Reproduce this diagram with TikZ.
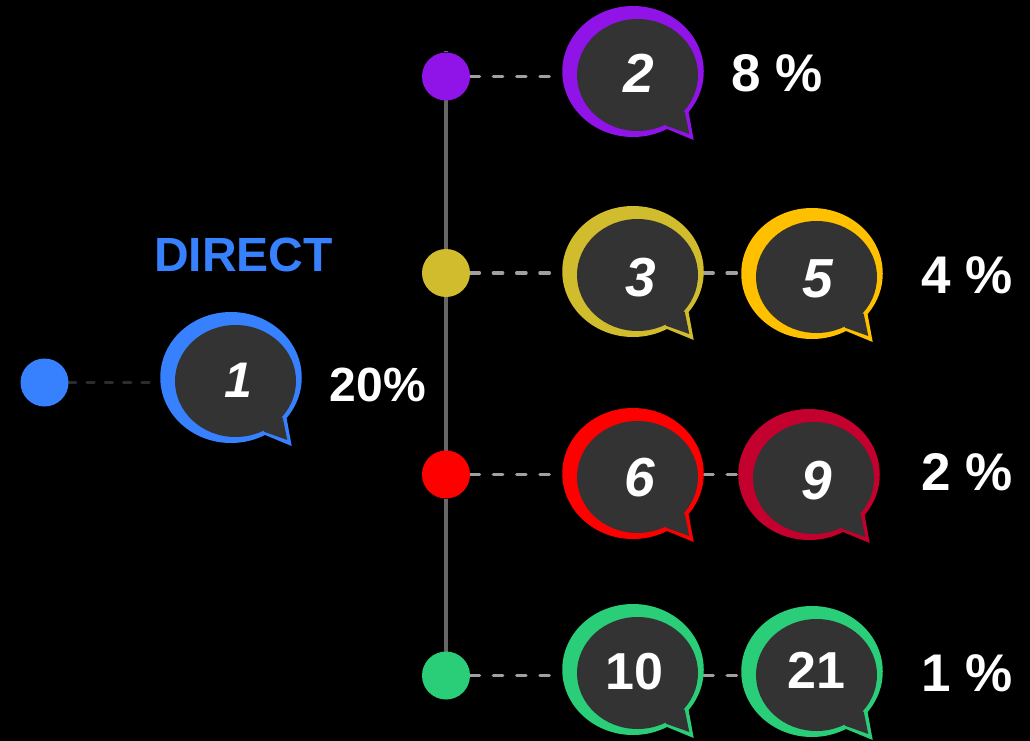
\documentclass[tikz,border=0pt]{standalone}
\usepackage{fontspec}
\setmainfont{Liberation Sans}
\usetikzlibrary{shapes.geometric}
\definecolor{cblue}{HTML}{3781FF}
\definecolor{cpurple}{HTML}{9013E8}
\definecolor{colive}{HTML}{D0BC2D}
\definecolor{camber}{HTML}{FFC000}
\definecolor{cred}{HTML}{FF0000}
\definecolor{ccrimson}{HTML}{C4002F}
\definecolor{cgreen}{HTML}{2BCE78}
\definecolor{cinner}{HTML}{333333}
\definecolor{cstem}{HTML}{666666}
\definecolor{cdash}{HTML}{A0A0A0}
\definecolor{cdashdark}{HTML}{2C2C2C}
\pgfdeclarelayer{bgbase}
\pgfdeclarelayer{bglines}
\pgfsetlayers{bgbase,bglines,main}
\tikzset{
  x=1pt,y=-1pt,
  dotnode/.style={circle,minimum size=48pt,inner sep=0pt,outer sep=0pt},
  outerb/.style={ellipse,minimum width=141.5pt,minimum height=131pt,inner sep=0pt,outer sep=0pt},
  innerb/.style={ellipse,fill=cinner,minimum width=121pt,minimum height=112pt,inner sep=0pt,outer sep=0pt},
  dashc/.style={line width=3.2pt,line cap=round,dash pattern=on 9.5pt off 13.8pt,cdash},
  dashd/.style={line width=2.8pt,line cap=round,dash pattern=on 7.5pt off 10.8pt,cdashdark},
  stem/.style={line width=4.2pt,cstem},
  pct/.style={text=white,font=\fontsize{53}{53}\selectfont\bfseries,inner sep=0pt},
  pctb/.style={text=white,font=\fontsize{48}{48}\selectfont\bfseries,inner sep=0pt},
  numi/.style={font=\fontsize{55}{55}\selectfont\bfseries\itshape},
  numo/.style={font=\fontsize{50}{50}\selectfont\bfseries\itshape},
  numr/.style={font=\fontsize{52}{52}\selectfont\bfseries},
}
% #1 name, #2 left, #3 top, #4 colour, #5 text style, #6 text, #7 text x, #8 text y
\newcommand{\bubblep}[8]{%
  \node[outerb,fill=#4] (#1o) at (#2+71,#3+65.5) {};
  \fill[#4] (#2+126,#3+103) -- (#2+131.7,#3+134) -- (#2+99,#3+120.5) -- cycle;
  \node[innerb] (#1) at (#2+75.5,#3+69) {};
  \fill[cinner] (#2+122.7,#3+105.7) -- (#2+127.3,#3+128) -- (#2+104,#3+119.7) -- (#2+100,#3+100) -- cycle;
  \node[#5,text=white,inner sep=0pt] (#1t) at (#7,#8) {#6};
}
\begin{document}
\begin{tikzpicture}
\useasboundingbox (0,0) rectangle (1030,741);
\begin{pgfonlayer}{bgbase}
\fill[black] (0,0) rectangle (1030,741);
\end{pgfonlayer}
\node[dotnode,fill=cpurple] (d2) at (446,76.5) {};
\node[dotnode,fill=colive] (d3) at (446,273) {};
\node[dotnode,fill=cred] (d6) at (446,474.5) {};
\node[dotnode,fill=cgreen] (d10) at (446,675.5) {};
\node[dotnode,fill=cblue] (d1) at (44.5,382.5) {};
\coordinate (top) at (446,51);
\bubblep{b1}{160}{312}{cblue}{numo}{1}{238.5}{380}
\bubblep{b2}{562}{6}{cpurple}{numi}{2}{639}{73}
\bubblep{b3}{562}{206}{colive}{numi}{3}{640.5}{277.5}
\bubblep{b5}{741}{208}{camber}{numi}{5}{818}{279}
\bubblep{b6}{562}{408}{cred}{numi}{6}{640}{478}
\bubblep{b9}{738}{409}{ccrimson}{numi}{9}{816.5}{481}
\bubblep{b10}{562}{604}{cgreen}{numr}{10}{634.5}{672}
\bubblep{b21}{741}{606}{cgreen}{numr}{21}{816.5}{670.5}
\begin{pgfonlayer}{bglines}
\draw[dashd,shorten >=9pt] (d1.east) -- (d1.east -| b1o.west);
\draw[dashc,shorten >=12pt] (d2.east) -- (d2.east -| b2o.west);
\draw[dashc,shorten >=12pt] (d3.east) -- (d3.east -| b3o.west);
\draw[dashc,shorten >=12pt] (d6.east) -- (d6.east -| b6o.west);
\draw[dashc,shorten >=12pt] (d10.east) -- (d10.east -| b10o.west);
\draw[dashc,shorten >=2pt] (d3.east -| b3o.east) -- (d3.east -| b5o.west);
\draw[dashc,shorten >=2pt] (d6.east -| b6o.east) -- (d6.east -| b9o.west);
\draw[dashc,shorten >=2pt] (d10.east -| b10o.east) -- (d10.east -| b21o.west);
\draw[stem] (top) -- (d2);
\draw[stem] (d2) -- (d3);
\draw[stem] (d3) -- (d6);
\draw[stem] (d6) -- (d10);
\end{pgfonlayer}
\node[text=cblue,font=\fontsize{48}{48}\selectfont\bfseries,inner sep=0pt] (direct) at (243.5,254.5) {DIRECT};
\node[pctb] (p1) at (378,385) {20\%};
\node[pct] (p2) at (777.5,73) {8 \%};
\node[pct] (p3) at (967,275) {4 \%};
\node[pct] (p4) at (967,472) {2 \%};
\node[pct] (p5) at (967,673) {1 \%};
\end{tikzpicture}
\end{document}
